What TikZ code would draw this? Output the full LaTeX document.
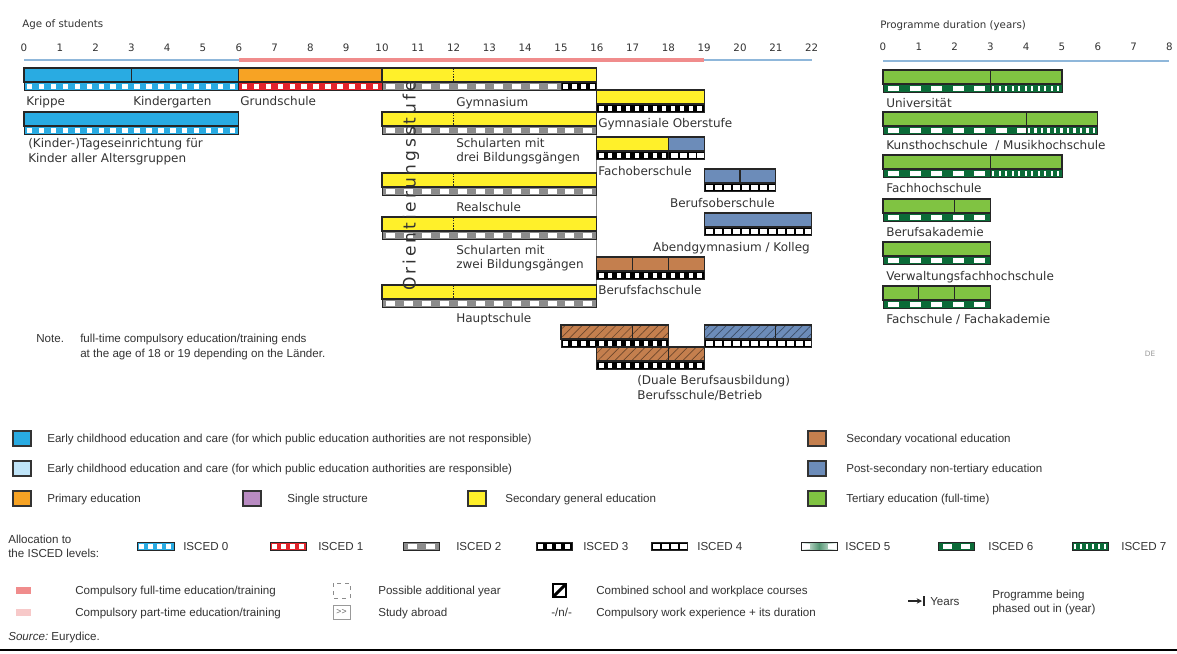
\documentclass[tikz,border=0pt]{standalone}
\usepackage{fontspec}
\setmainfont{DejaVu Sans}
\newfontfamily\lgf{Liberation Sans}
\usetikzlibrary{patterns.meta,arrows.meta}
\definecolor{ecec}{HTML}{29ABE2}
\definecolor{ececl}{HTML}{BFE4F8}
\definecolor{prim}{HTML}{F7A324}
\definecolor{single}{HTML}{B98BC2}
\definecolor{secg}{HTML}{FFF02A}
\definecolor{secv}{HTML}{C47F4E}
\definecolor{post}{HTML}{6C8CB9}
\definecolor{tert}{HTML}{80C342}
\definecolor{iscR}{HTML}{E3242B}
\definecolor{iscG}{HTML}{8C8C8C}
\definecolor{dgreen}{HTML}{0B6B38}
\definecolor{cfull}{HTML}{F08C8C}
\definecolor{cpart}{HTML}{F7C9C9}
\definecolor{axisb}{HTML}{8FB7DA}
\definecolor{txt}{HTML}{333333}
% bar boxes: x1 x2 ytop colour
\newcommand\ebox[4]{\filldraw[fill=#4,draw=black!85,line width=0.8] ({#1},{#3}) rectangle ({#2},{#3+14});}
\newcommand\ehatch[4]{\fill[#4] ({#1},{#3}) rectangle ({#2},{#3+14});
  \fill[pattern={Lines[angle=45,distance=4.5pt,line width=0.5pt]},pattern color=#4!55!black] ({#1},{#3}) rectangle ({#2},{#3+14});
  \draw[black!85,line width=0.8] ({#1},{#3}) rectangle ({#2},{#3+14});}
\newcommand\ediv[2]{\draw[black!85,line width=0.8] ({#1},{#2}) -- ({#1},{#2+14});}
\newcommand\edash[2]{\draw[black!85,line width=0.9,dash pattern=on 1.2pt off 0.9pt] ({#1},{#2}) -- ({#1},{#2+14});}
% strip: x1 x2 ytop colour period whitefrac height
\newcommand\sq[7]{%
  \begin{scope}
  \clip ({#1},{#3}) rectangle ({#2},{#3+#7});
  \fill[#4] ({#1},{#3}) rectangle ({#2},{#3+#7});
  \pgfmathsetmacro\sqa{#1}\pgfmathsetmacro\sqb{#2}%
  \pgfmathtruncatemacro\sqn{(\sqb-\sqa)/(#5)}%
  \foreach \k in {0,...,\sqn}{\fill[white] ({\sqa+(\k+0.25)*(#5)},{#3+1.5}) rectangle ++({(#6)*(#5)},{#7-3});}
  \end{scope}
  \draw[black!85,line width=0.6] ({#1},{#3}) rectangle ({#2},{#3+#7});}
\newcommand\iscz[3]{\sq{#1}{#2}{#3+14}{ecec}{11.93}{0.45}{8}}
\newcommand\isco[3]{\sq{#1}{#2}{#3+14}{iscR}{11.93}{0.45}{8}}
\newcommand\isctw[3]{\sq{#1}{#2}{#3+14}{iscG}{17.9}{0.5}{8}}
\newcommand\iscth[3]{\sq{#1}{#2}{#3+14}{black}{8.95}{0.5}{8}}
\newcommand\iscf[3]{\sq{#1}{#2}{#3+14}{black}{8.95}{0.78}{8}}
\newcommand\iscs[3]{\sq{#1}{#2}{#3+14}{dgreen}{21.5}{0.5}{8}}
\newcommand\iscse[3]{\sq{#1}{#2}{#3+14}{dgreen}{6.5}{0.35}{8}}
\begin{document}
\begin{tikzpicture}[x=0.75pt,y=-0.75pt,
  declare function={ax(\a)=24+35.8*\a; px(\a)=883+35.8*\a;},
  lab/.style={font=\fontsize{9}{10}\selectfont,text=txt,inner sep=0pt,anchor=base west},
  lg/.style={font=\lgf\fontsize{8.7}{10}\selectfont,text=txt,inner sep=0pt,anchor=base west},
  tick/.style={font=\fontsize{7.7}{9}\selectfont,text=txt,inner sep=0pt,anchor=base}]
\useasboundingbox (0,0) rectangle (1177,653);
\fill[white] (0,0) rectangle (1177,653);
% ---- axes
\node[tick,anchor=base west] (hage) at (22,27) {Age of students};
\node[tick,anchor=base west] (hdur) at (880,28) {Programme duration (years)};
\foreach \i in {0,...,22} \node[tick] (t\i) at ({ax(\i)},51) {\i};
\foreach \i in {0,...,8} \node[tick] (r\i) at ({px(\i)},50) {\i};
\draw[axisb,line width=1] ({ax(0)},60) -- ({ax(22)},60);
\draw[cfull,line width=3.5] ({ax(6)},60) -- ({ax(19)},60);
\draw[axisb,line width=1] ({px(0)},61) -- ({px(8)},61);
% ---- grey frame line of middle block
\draw[black!45,line width=0.8] ({ax(16)},68) -- ({ax(16)},307);
% ---- row A
\ebox{ax(0)}{ax(6)}{68}{ecec}\ediv{ax(3)}{68}
\ebox{ax(6)}{ax(10)}{68}{prim}
\ebox{ax(10)}{ax(16)}{68}{secg}\edash{ax(12)}{68}
\iscz{ax(0)}{ax(6)}{68}\isco{ax(6)}{ax(10)}{68}
\isctw{ax(10)}{ax(15)}{68}\iscth{ax(15)}{ax(16)}{68}
% ---- row B
\ebox{ax(0)}{ax(6)}{112}{ecec}\iscz{ax(0)}{ax(6)}{112}
\ebox{ax(10)}{ax(16)}{112}{secg}\edash{ax(12)}{112}\isctw{ax(10)}{ax(16)}{112}
% ---- rows C D E
\foreach \yy in {173,217,285}{\ebox{ax(10)}{ax(16)}{\yy}{secg}\edash{ax(12)}{\yy}\isctw{ax(10)}{ax(16)}{\yy}}
% ---- upper secondary and post-secondary
\ebox{ax(16)}{ax(19)}{90}{secg}\iscth{ax(16)}{ax(19)}{90}
\ebox{ax(16)}{ax(18)}{137}{secg}\ebox{ax(18)}{ax(19)}{137}{post}
\iscth{ax(16)}{ax(18)}{137}\iscf{ax(18)}{ax(19)}{137}
\ebox{ax(19)}{ax(21)}{169}{post}\ediv{ax(20)}{169}\iscf{ax(19)}{ax(21)}{169}
\ebox{ax(19)}{ax(22)}{213}{post}\iscf{ax(19)}{ax(22)}{213}
\ebox{ax(16)}{ax(19)}{257}{secv}\ediv{ax(17)}{257}\ediv{ax(18)}{257}\iscth{ax(16)}{ax(19)}{257}
\ehatch{ax(15)}{ax(18)}{325}{secv}\ediv{ax(17)}{325}\iscth{ax(15)}{ax(18)}{325}
\ehatch{ax(19)}{ax(22)}{325}{post}\ediv{ax(21)}{325}\iscf{ax(19)}{ax(22)}{325}
\ehatch{ax(16)}{ax(19)}{347}{secv}\ediv{ax(18)}{347}\iscth{ax(16)}{ax(19)}{347}
% ---- tertiary
\ebox{px(0)}{px(5)}{70}{tert}\ediv{px(3)}{70}\iscs{px(0)}{px(3)}{70}\iscse{px(3)}{px(5)}{70}
\ebox{px(0)}{px(6)}{112}{tert}\ediv{px(4)}{112}\iscs{px(0)}{px(4)}{112}\iscse{px(4)}{px(6)}{112}
\ebox{px(0)}{px(5)}{155}{tert}\ediv{px(3)}{155}\iscs{px(0)}{px(3)}{155}\iscse{px(3)}{px(5)}{155}
\ebox{px(0)}{px(3)}{199}{tert}\ediv{px(2)}{199}\iscs{px(0)}{px(3)}{199}
\ebox{px(0)}{px(3)}{242}{tert}\iscs{px(0)}{px(3)}{242}
\ebox{px(0)}{px(3)}{286}{tert}\ediv{px(1)}{286}\ediv{px(2)}{286}\iscs{px(0)}{px(3)}{286}
% ---- Orientierungsstufe
\node[rotate=90,inner sep=0pt,text=txt,font=\fontsize{12.8}{13}\selectfont\addfontfeatures{LetterSpace=17}] (orient) at (411,186) {Orientierungsstufe};
% ---- labels
\node[lab] (krippe) at (26,105) {Krippe};
\node[lab] (kiga) at (133,105) {Kindergarten};
\node[lab] (grund) at (240,105) {Grundschule};
\node[lab] (gym) at (456,106) {Gymnasium};
\node[lab] (tag1) at (28,147) {(Kinder-)Tageseinrichtung für};
\node[lab] (tag2) at (28,162) {Kinder aller Altersgruppen};
\node[lab] (sd1) at (456,147) {Schularten mit};
\node[lab] (sd2) at (456,161) {drei Bildungsgängen};
\node[lab] (real) at (456,211) {Realschule};
\node[lab] (sz1) at (456,254) {Schularten mit};
\node[lab] (sz2) at (456,268) {zwei Bildungsgängen};
\node[lab] (haupt) at (456,322) {Hauptschule};
\node[lab] (gymo) at (598,127) {Gymnasiale Oberstufe};
\node[lab] (fos) at (598,175) {Fachoberschule};
\node[lab,anchor=base east] (bos) at (775,207) {Berufsoberschule};
\node[lab,anchor=base east] (abend) at (810,251) {Abendgymnasium / Kolleg};
\node[lab] (bfs) at (598,294) {Berufsfachschule};
\node[lab] (dual1) at (637,384) {(Duale Berufsausbildung)};
\node[lab] (dual2) at (637,399) {Berufsschule/Betrieb};
\node[lab] (uni) at (886,107) {Universität};
\node[lab] (kunst) at (886,149) {Kunsthochschule~ / Musikhochschule};
\node[lab] (fh) at (886,192) {Fachhochschule};
\node[lab] (ba) at (886,236) {Berufsakademie};
\node[lab] (verw) at (886,280) {Verwaltungsfachhochschule};
\node[lab] (fsch) at (886,323) {Fachschule / Fachakademie};
\node[inner sep=0pt,font=\fontsize{5.5}{6}\selectfont,text=black!40] (de) at (1150,354) {DE};
% ---- note
\node[lg] (note) at (36,342) {Note.};
\node[lg] (note1) at (80,342) {full-time compulsory education/training ends};
\node[lg] (note2) at (80,357) {at the age of 18 or 19 depending on the Länder.};
% ---- colour legend
\tikzset{swbox/.style={draw=black!80,line width=0.9}}
\filldraw[swbox,fill=ecec] (13,431) rectangle (31,446);
\filldraw[swbox,fill=ececl] (13,461) rectangle (31,476);
\filldraw[swbox,fill=prim] (13,491) rectangle (31,506);
\filldraw[swbox,fill=single] (243,491) rectangle (261,506);
\filldraw[swbox,fill=secg] (468,491) rectangle (486,506);
\filldraw[swbox,fill=secv] (808,431) rectangle (826,446);
\filldraw[swbox,fill=post] (808,461) rectangle (826,476);
\filldraw[swbox,fill=tert] (808,491) rectangle (826,506);
\node[lg] (l1) at (47,442) {Early childhood education and care (for which public education authorities are not responsible)};
\node[lg] (l2) at (47,472) {Early childhood education and care (for which public education authorities are responsible)};
\node[lg] (l3) at (47,502) {Primary education};
\node[lg] (l4) at (287,502) {Single structure};
\node[lg] (l5) at (505,502) {Secondary general education};
\node[lg] (l6) at (846,442) {Secondary vocational education};
\node[lg] (l7) at (846,472) {Post-secondary non-tertiary education};
\node[lg] (l8) at (846,502) {Tertiary education (full-time)};
% ---- ISCED legend
\node[lg] (al1) at (8,543) {Allocation to};
\node[lg] (al2) at (8,557) {the ISCED levels:};
\sq{137}{174}{542}{ecec}{9}{0.5}{8}\node[lg] (i0) at (183,550) {ISCED 0};
\sq{270}{306}{542}{iscR}{9}{0.5}{8}\node[lg] (i1) at (318,550) {ISCED 1};
\sq{403}{439}{542}{iscG}{18}{0.5}{8}\node[lg] (i2) at (456,550) {ISCED 2};
\sq{536}{572}{542}{black}{9}{0.5}{8}\node[lg] (i3) at (583,550) {ISCED 3};
\sq{651}{687}{542}{black}{9}{0.78}{8}\node[lg] (i4) at (697,550) {ISCED 4};
\shade[left color=white,right color=white,middle color=dgreen!70] (801,542) rectangle (837,550);
\fill[white] (801,543.5) rectangle (810,548.5);\fill[white] (828,543.5) rectangle (836,548.5);
\draw[black!85,line width=0.6] (801,542) rectangle (837,550);\node[lg] (i5) at (845,550) {ISCED 5};
\sq{938}{974}{542}{dgreen}{18}{0.5}{8}\node[lg] (i6) at (988,550) {ISCED 6};
\sq{1072}{1108}{542}{dgreen}{6}{0.35}{8}\node[lg] (i7) at (1121,550) {ISCED 7};
% ---- other legend
\fill[cfull] (16,587) rectangle (31,594);
\fill[cpart] (16,609) rectangle (31,616);
\node[lg] (cf) at (75,594) {Compulsory full-time education/training};
\node[lg] (cp) at (75,616) {Compulsory part-time education/training};
\draw[black!45,dashed,line width=0.6] (333,583) rectangle (350,598);
\draw[black!40,line width=0.6] (333,605) rectangle (350,619);
\node[inner sep=0pt,font=\lgf\fontsize{6.5}{7}\selectfont,text=black!60] (abr) at (341.5,612) {>>};
\node[lg] (pay) at (378,594) {Possible additional year};
\node[lg] (sab) at (378,616) {Study abroad};
\draw[black,line width=1.6] (553,584) rectangle (566,597);
\draw[black,line width=2.2] (553,597) -- (566,584);
\node[lg] (wexp) at (551,616) {-/n/-};
\node[lg] (comb) at (596,594) {Combined school and workplace courses};
\node[lg] (work) at (596,616) {Compulsory work experience + its duration};
\coordinate (ya) at (908,601);
\coordinate (yb) at (922,601);
\draw[black!85,line width=1,-{Stealth[length=4pt,width=4pt]}] (ya) -- (yb);
\draw[black!85,line width=1.3] (924,596) -- (924,606);
\node[lg] (yrs) at (930,605) {Years};
\node[lg] (ph1) at (992,598) {Programme being};
\node[lg] (ph2) at (992,612) {phased out in (year)};
\node[lg] (src) at (8,640) {\itshape Source:\upshape\ Eurydice.};
\draw[black,line width=1.2] (0,650) -- (1177,650);
\end{tikzpicture}
\end{document}
